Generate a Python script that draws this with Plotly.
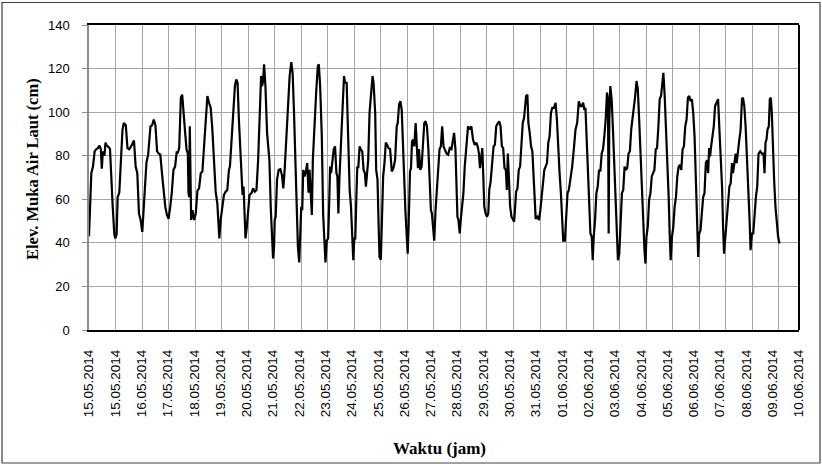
import plotly.graph_objects as go

# Hours since 15.05.2014 00:00
hours = [
    0, 2.1, 3.6, 5.1, 6.5, 8.0, 9.5, 10.7, 11.6, 12.5, 14.0, 14.9, 16.1, 17.8, 19.0, 19.9,
    21.4, 22.9, 23.8, 25.0, 25.9, 27.4, 28.8, 30.3, 31.5, 33.3, 34.8, 36.3, 37.8, 39.3, 40.7,
    42.2, 43.7, 45.2, 46.7, 48.2, 49.7, 50.6, 52.0, 53.5, 55.6, 57.1, 58.6, 60.1, 61.6, 63.0,
    64.5, 66.0, 67.5, 69.0, 70.5, 72.0, 73.5, 74.9, 76.4, 77.9, 79.4,
    80.1, 81.6, 82.5, 83.1, 84.3, 85.2, 86.1, 87.0, 88.2, 89.4, 90.0, 90.6, 91.2, 91.8, 92.4,
    93.6, 95.1, 96.6, 98.1, 99.6, 101.1, 102.6, 104.1, 105.6, 107.1, 108.6, 110.1, 111.6,
    113.1, 114.6, 116.1, 117.0, 117.9, 119.1, 120.6, 122.1, 123.6, 125.1, 126.6, 127.5, 129.0,
    130.5, 132.0, 133.2, 134.4, 135.6, 137.1, 138.0, 138.9, 139.8, 140.7, 141.6, 142.8, 144.0,
    145.2, 147.0, 148.5, 150.0, 151.5, 153.0, 154.5, 155.7, 156.6, 157.5, 158.4, 159.6, 161.1,
    163.2, 164.4, 165.6, 166.5, 167.4, 168.0, 168.9, 170.1, 171.6, 173.1, 174.6, 175.8, 177.0,
    178.5, 180.0, 181.5, 183.0, 184.2, 185.4, 186.6, 187.8, 189.0, 190.2, 191.4, 192.0, 192.9,
    193.8, 195.0, 196.2, 197.4, 198.6, 199.5, 200.4, 201.6, 202.5, 204.0, 205.5, 207.0, 207.9,
    209.1, 210.6, 211.8, 213.0, 213.9, 215.1, 216.3, 217.2, 218.1, 219.0, 219.9, 221.4, 222.6,
    223.8, 224.7, 225.6, 226.5, 228.0, 229.5, 230.7, 231.6, 233.1, 234.0, 234.9, 235.8, 237.0,
    238.2, 239.1, 240.0, 240.9, 241.8, 242.7, 243.6, 244.8, 246.0, 247.2, 248.4, 249.6, 250.5,
    251.4, 252.6, 253.8, 255.0, 256.5, 257.4,
    258.9, 259.8, 261.0, 261.9, 262.8, 264.0, 264.9, 266.1, 267.3, 268.5, 269.7, 270.9, 272.4,
    273.9, 275.4, 276.9, 278.4, 279.3, 280.5, 281.7, 282.9, 283.8, 285.0, 286.2, 287.1, 288.3,
    289.2, 290.4, 291.3, 292.2, 293.4, 294.3, 295.5, 296.4, 297.6, 298.5, 299.7, 300.9, 302.1,
    303.3, 304.5, 305.7, 306.9, 308.1, 309.3, 310.2, 311.4, 312.3, 313.5, 314.7, 315.9, 317.1,
    318.3, 319.5, 320.7, 321.9, 323.4, 324.9, 326.4, 327.9, 329.1, 330.3, 331.5, 332.4, 333.3,
    334.2, 335.4, 336.3, 337.5, 338.7, 339.9, 341.4, 342.9, 344.4, 345.9, 347.4, 348.9, 350.4,
    351.6, 352.8, 353.7, 354.6, 355.8, 356.7, 357.6, 358.8, 360.0, 361.2, 362.1, 363.3, 364.5,
    366.0, 367.2, 368.4, 369.9, 371.1, 372.3, 373.5, 374.7, 375.9, 377.1, 378.0, 378.9, 379.8,
    381.0, 382.2, 383.4, 384.6, 385.5, 386.4, 387.6, 388.8, 390.0, 391.2, 392.4, 393.6, 394.5,
    395.4, 396.6, 397.5, 398.7, 399.9, 401.1, 402.3, 403.2, 404.1, 405.6, 407.1, 408.3, 409.5,
    410.7, 411.9, 413.1, 414.3, 415.5, 416.7, 417.9, 419.1, 420.6, 422.1, 423.3, 424.5, 425.7,
    426.9, 428.1, 429.0, 430.5, 431.7, 432.9, 434.1, 435.6, 437.1, 438.6, 440.1, 441.6, 443.1,
    444.6,
    445.8, 447.0, 448.2, 449.1, 450.0, 451.2, 452.4, 453.6, 454.8, 455.7, 456.6, 457.8, 459.0,
    460.2, 461.4, 462.6, 463.8, 465.0, 466.2, 467.4, 468.6, 469.5, 470.1, 470.7, 471.6, 472.8,
    474.0, 475.2, 476.4, 477.6, 478.5, 479.7, 480.9, 482.1, 483.3, 484.5, 485.7, 486.9, 488.1,
    489.3, 490.5, 491.7, 492.9, 494.1, 495.3, 496.5, 497.7, 498.9, 500.1, 501.3, 502.5, 503.4,
    504.3, 505.5, 506.7, 507.9, 509.1, 510.3, 511.5, 512.7, 513.9, 515.1, 516.3, 517.5, 518.7,
    519.6, 520.8, 522.0, 523.2, 524.4, 525.3, 526.2, 527.4, 528.6, 529.8, 531.0, 532.2, 533.4,
    534.6, 535.8, 537.0, 538.2, 539.4, 540.6, 541.8, 543.0,
    544.2, 545.4, 546.6, 547.8, 549.0, 550.2, 551.1, 552.0, 553.2, 554.4, 555.6, 556.8, 558.0,
    559.2, 560.1, 561.0, 561.9, 562.8, 564.0, 565.2, 566.4, 567.6, 569.1, 570.3, 571.5, 572.7,
    573.6, 574.5, 575.7, 576.9, 578.1, 579.3, 580.5, 581.7, 582.6, 583.8, 585.0, 585.9, 587.1,
    588.3, 589.5, 590.7, 591.6, 592.8, 594.0, 595.2, 596.4, 597.6, 598.5, 599.7, 600.9, 602.1,
    603.3, 604.5, 605.7, 607.2, 608.7, 610.2, 611.1, 612.0, 612.9, 613.8, 615.0, 615.9, 616.8,
    617.7, 618.6, 619.8, 621.0, 622.2, 623.4, 624.6,
]

# Sea level elevation (cm)
levels = [
    43, 72, 75, 82, 83, 83.5, 84.6, 83, 74, 82, 80, 86, 84.6, 84, 83, 70,
    57, 44, 42, 44, 61, 63, 78, 92, 95, 94, 83.5, 83, 84, 86, 87,
    75, 72, 53.5, 50.5, 45, 56.6, 63, 77, 80.5, 93.5, 94, 96.6, 94, 82, 81,
    80.5, 72, 63, 56.6, 52.8, 51, 56.6, 63, 73.5, 75, 82,
    81, 83.5, 99.7, 106.6, 108, 101, 94.3, 90.5, 83, 81, 63, 61, 93.5, 78, 50.5,
    55, 50.5, 53.5, 64, 65, 72, 72.8, 83, 96.6, 107.4, 104.3, 102, 92,
    76.6, 63.5, 58, 47.4, 42, 50.5, 56.6, 62, 63.5, 64.3, 73.5, 75, 87.4,
    101, 112, 115, 113.5, 96.6, 78, 65.8, 62, 65.8, 47.4, 42, 47.4, 53.5,
    62, 62.8, 65, 63.5, 64.3, 78, 98, 116.6, 112, 114.3, 122, 112, 90.5,
    78, 56.6, 41, 32.8, 38, 50.5, 52, 69, 73.5, 73.8, 71, 65, 73.5,
    87.4, 104, 116.6, 123, 118, 101, 81, 56.6, 38, 31, 44, 56.6, 55,
    73.5, 70.5, 72.8, 76.6, 63, 73.5, 63, 52.8, 78, 96.6, 109, 121, 122,
    112, 89, 53.5, 42.8, 31, 41, 42, 56.6, 75, 72, 76.6, 83, 84.3,
    72, 70.5, 53.5, 69, 89, 102.8, 116.6, 113.5, 113.5, 96.6, 78, 64.3, 56.6,
    42.8, 32, 42, 42, 59.7, 75, 74.3, 84.3, 82.8, 82, 73.5, 72, 65.8,
    73.5, 78, 99.7, 109, 116.6, 113.5,
    99.7, 73.5, 69, 50.5, 33.5, 32.3, 47.4, 70.5, 76.6, 86, 85, 83.5, 83,
    72.8, 74.3, 78, 93.5, 95, 103.5, 105, 101, 84.3, 72, 55, 47.4, 35,
    49, 72.8, 74.3, 86.6, 87.4, 84.3, 95, 84.3, 74.3, 83, 73.5, 75, 83,
    95, 95.8, 93.5, 84.3, 70.5, 55, 53.5, 44.3, 41, 55, 64.3, 75, 83,
    84.3, 93.5, 84.3, 83, 81, 80.5, 83.5, 83, 86, 90.5, 83, 70.5, 52,
    50.5, 44.3, 50.5, 56.6, 62.8, 75, 86, 93.5, 92, 93.5, 87.4, 85, 86,
    84.3, 81, 74.3, 78, 83.5, 70.5, 56.6, 53.5, 52, 53.5, 64.3, 68, 75,
    84.3, 85, 93.5, 95, 95.8, 93.5, 84.3, 83.5, 74.3, 73.5, 64.3, 81, 65.8,
    56.6, 52, 50.5, 49.7, 56.6, 63.5, 65, 73.5, 75, 84.3, 95, 97.4, 102.8,
    107.4, 108, 95, 90.5, 84.3, 82, 70.5, 56.6, 51, 52, 50.5, 55, 62,
    65.8, 73.5, 75, 76.6, 86, 89, 99.7, 102, 102, 104.3, 96.6, 81, 72,
    62.8, 50.5, 41, 41, 50.5, 62.8, 64.3, 69, 75, 83, 92, 95, 105,
    102.8,
    102.8, 104.3, 101, 102, 89, 73.5, 62.8, 44.3, 42.8, 32, 42.8, 50.5, 62.8,
    65.8, 73.5, 72.8, 81, 83, 89, 96.6, 109, 106, 44.3, 96.6, 112, 106,
    92, 75, 56.6, 38, 32, 35, 50.5, 62.8, 64.3, 75, 73.5, 74.3, 81,
    82, 92, 96.6, 101, 107.4, 114.3, 110.5, 96.6, 81, 64.3, 49, 36.6, 30.5,
    42.8, 47.4, 59.7, 62.8, 70.5, 72, 73.5, 83, 83.5, 93.5, 106, 107.4, 115,
    118, 107.4, 93.5, 78, 61, 44.3, 32, 42.8, 47.4, 56.6, 61, 70.5, 75,
    75.8, 73.5, 83, 84.3, 93.5, 96.6, 106.6, 107.4,
    105, 106, 99.7, 89, 69, 47.4, 33.5, 44.3, 45.8, 53.5, 61, 62.8, 76.6,
    78, 72, 83.5, 79.7, 84.3, 89, 93.5, 102.8, 104.3, 106, 92, 79.7, 65.8,
    47.4, 35, 42.8, 50.5, 56.6, 65.8, 67.4, 76.6, 72, 76.6, 81, 76.6, 83,
    87.4, 92, 106, 106.6, 102.8, 93.5, 81, 65.8, 50.5, 36.6, 44.3, 44.3, 53.5,
    61, 65.8, 81, 82, 81, 81, 72, 86, 87.4, 92, 93.5, 106, 106.6,
    99.7, 84.3, 69, 56.6, 47.4, 42.8, 39.7,
]

tick_labels = [
    "15.05.2014", "15.05.2014", "16.05.2014", "17.05.2014", "18.05.2014", "19.05.2014",
    "20.05.2014", "21.05.2014", "22.05.2014", "23.05.2014", "24.05.2014", "25.05.2014",
    "26.05.2014", "27.05.2014", "28.05.2014", "29.05.2014", "30.05.2014", "31.05.2014",
    "01.06.2014", "02.06.2014", "03.06.2014", "04.06.2014", "05.06.2014", "06.06.2014",
    "07.06.2014", "08.06.2014", "09.06.2014", "10.06.2014",
]

X_MAX = 642.3
n_lab = len(tick_labels)
label_pos = [X_MAX * i / (n_lab - 1) * 0.9999 for i in range(n_lab)]

GRID = "#a6a6a6"
TICKFONT = dict(family="Liberation Sans, Arial, sans-serif", size=13.5, color="#000000")

fig = go.Figure()
fig.add_trace(go.Scatter(
    x=hours, y=levels, mode="lines",
    line=dict(color="#000000", width=2.2),
    showlegend=False, hoverinfo="skip",
))

fig.update_layout(
    width=822, height=464,
    margin=dict(l=89, r=23, t=25, b=134),
    paper_bgcolor="#ffffff", plot_bgcolor="#ffffff",
    showlegend=False,
    xaxis=dict(
        range=[0, X_MAX], tickmode="linear", tick0=0, dtick=24,
        showticklabels=False, ticks="",
        showgrid=True, gridcolor=GRID, gridwidth=1.3,
        showline=True, linecolor="#000000", linewidth=2, mirror=True,
        zeroline=False,
    ),
    xaxis2=dict(
        overlaying="x", anchor="y", side="bottom",
        range=[0, X_MAX], tickmode="array", tickvals=label_pos, ticktext=tick_labels,
        tickangle=-90, tickfont=TICKFONT, ticks="", ticklabelstandoff=16,
        showgrid=False, showline=False, zeroline=False,
    ),
    yaxis=dict(
        range=[0, 140], tickmode="linear", tick0=0, dtick=20,
        showgrid=True, gridcolor=GRID, gridwidth=1.3,
        showline=True, linecolor="#8c8c8c", linewidth=1.5,
        ticks="outside", ticklen=5, tickcolor="#8c8c8c", tickwidth=1.3,
        tickfont=dict(family="Liberation Sans, Arial, sans-serif", size=13, color="#000000"),
        ticklabelstandoff=10,
        zeroline=False,
    ),
)

# invisible helper trace so the label axis is registered
fig.add_trace(go.Scatter(x=[], y=[], xaxis="x2", yaxis="y", showlegend=False))

# right border of plot area and outer chart border
fig.add_shape(type="line", xref="paper", yref="paper", x0=1, x1=1, y0=0, y1=1,
              line=dict(color="#000000", width=2))
fig.add_shape(type="rect", xref="paper", yref="paper",
              x0=(2 - 89) / 710, x1=(820 - 89) / 710,
              y0=(330 - 463) / 305, y1=(330 - 2.5) / 305,
              line=dict(color="#404040", width=1.2), layer="above")

fig.add_annotation(
    text="<b>Elev. Muka Air Laut (cm)</b>", textangle=-90,
    xref="paper", yref="paper", x=(32 - 89) / 710, y=(330 - 169) / 305,
    xanchor="center", yanchor="middle", showarrow=False,
    font=dict(family="Liberation Serif, Times New Roman, serif", size=16.5, color="#000000"),
)
fig.add_annotation(
    text="<b>Waktu (jam)</b>",
    xref="paper", yref="paper", x=(439 - 89) / 710, y=(330 - 448) / 305,
    xanchor="center", yanchor="middle", showarrow=False,
    font=dict(family="Liberation Serif, Times New Roman, serif", size=17, color="#000000"),
)

fig.write_html(
    "out.html",
    config={"displayModeBar": False},
    post_script="document.body.style.margin='0';document.body.style.overflow='hidden';",
)
